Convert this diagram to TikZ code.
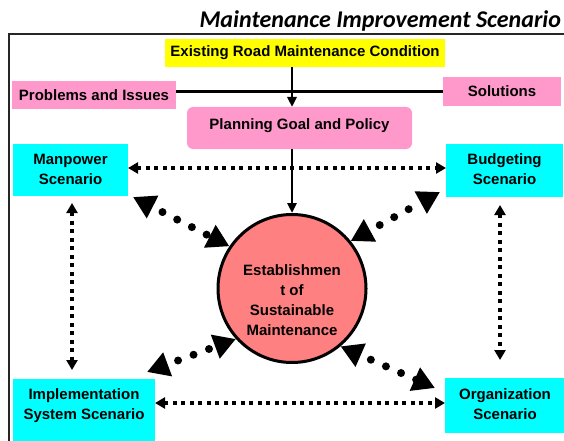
\documentclass[tikz,border=0pt]{standalone}
\usepackage{fontspec}
\setmainfont{Liberation Sans}
\newfontfamily\headfont{Carlito}
\usetikzlibrary{arrows.meta,calc}

\definecolor{boxyellow}{HTML}{FFFF00}
\definecolor{boxpink}{HTML}{FF99CC}
\definecolor{boxcyan}{HTML}{00FFFF}
\definecolor{hubred}{HTML}{FF8080}

% centred stack of lines; optional argument is the tabular position
\newcommand{\stacklines}[2][c]{\begin{tabular}[#1]{@{}c@{}}#2\end{tabular}}

\begin{document}
\begin{tikzpicture}[x=1pt,y=-1pt,
  every node/.style={inner sep=0pt, outer sep=0pt,
    font=\fontsize{15}{20}\selectfont\bfseries},
  box/.style={rectangle, fill=#1},
  flow/.style={line width=2.5pt, -{Triangle[length=10pt,width=9pt]}},
  link/.style={line width=3.5pt, dash pattern=on 4pt off 4.5pt,
    {Triangle[length=10pt,width=11pt]}-{Triangle[length=10pt,width=11pt]}},
  hublink/.style={line width=8pt, line cap=round,
    dash pattern=on 0pt off 16.5pt, dash phase=4pt,
    {Triangle[length=22pt,width=24pt]}-{Triangle[length=22pt,width=24pt]}}]

\useasboundingbox (0,0) rectangle (564,441);
\clip (0,0) rectangle (564,441);

% heading and outer frame
\node[anchor=base east, font=\headfont\fontsize{24}{28}\selectfont\bfseries\itshape]
  (title) at (561,28) {Maintenance Improvement Scenario};
\draw[line width=2pt, black!85] (9,34) rectangle (620,480);

% top row
\node[box=boxyellow, minimum width=280pt, minimum height=28pt] (cond) at (305,53)
  {Existing Road Maintenance Condition};
\node[box=boxpink, minimum width=164pt, minimum height=28pt] (prob) at (94,95)
  {Problems and Issues};
\node[box=boxpink, minimum width=118pt, minimum height=29pt] (sol) at (502,91.5)
  {Solutions};
\node[box=boxpink, rounded corners=6pt, minimum width=225pt, minimum height=42pt,
  text height=11pt, text depth=8.2pt] (plan) at (299.5,128)
  {Planning Goal and Policy};

% central hub
\node[circle, fill=hubred, draw=black, line width=3pt, minimum size=148pt,
  outer sep=1.5pt, text height=14pt, text depth=40.2pt] (hub) at (292,288.5)
  {\stacklines[t]{Establishmen\\t of\\Sustainable\\Maintenance}};

% scenario boxes
\node[box=boxcyan, minimum width=115pt, minimum height=52pt] (man) at (70.5,170)
  {\stacklines{Manpower\\Scenario}};
\node[box=boxcyan, minimum width=117pt, minimum height=53pt] (bud) at (504.5,170.5)
  {\stacklines{Budgeting\\Scenario}};
\node[box=boxcyan, minimum width=142pt, minimum height=66pt,
  text height=14pt, text depth=39.2pt] (imp) at (84,412)
  {\stacklines[t]{Implementation\\System Scenario}};
\node[box=boxcyan, minimum width=120pt, minimum height=55pt] (org) at (505,405.5)
  {\stacklines{Organization\\Scenario}};

% condition -> policy -> hub
\draw[line width=3pt] (prob.east |- sol.west) -- (sol.west);
\draw[flow] (cond.south -| hub.north) -- (plan.north -| hub.north);
\draw[flow] (plan.south -| hub.north) -- (hub.north);

% links between scenarios
\draw[link] ([yshift=2pt]man.east) -- ([yshift=2pt]man.east -| bud.west);
\draw[link] ([yshift=2.5pt]org.west -| imp.east) -- ([yshift=2.5pt]org.west);
\draw[link, shorten <=7pt, shorten >=9pt]
  ([xshift=1.5pt]man.south) -- ([xshift=1.5pt]man.south |- imp.north);
\draw[link, shorten <=8pt, shorten >=18pt]
  ([xshift=-4.5pt]bud.south) -- ([xshift=-4.5pt]bud.south |- org.north);

% links between scenarios and the hub
\draw[hublink] ([shift={(5,1)}]man.south east) -- (hub.146.7);
\draw[hublink] (hub.39.6) -- ([shift={(-6,-5)}]bud.south west);
\draw[hublink] ([shift={(-8,-7)}]imp.north east) -- (hub.222.9);
\draw[hublink] (hub.310) -- ([shift={(-10,10)}]org.north west);
\end{tikzpicture}
\end{document}
